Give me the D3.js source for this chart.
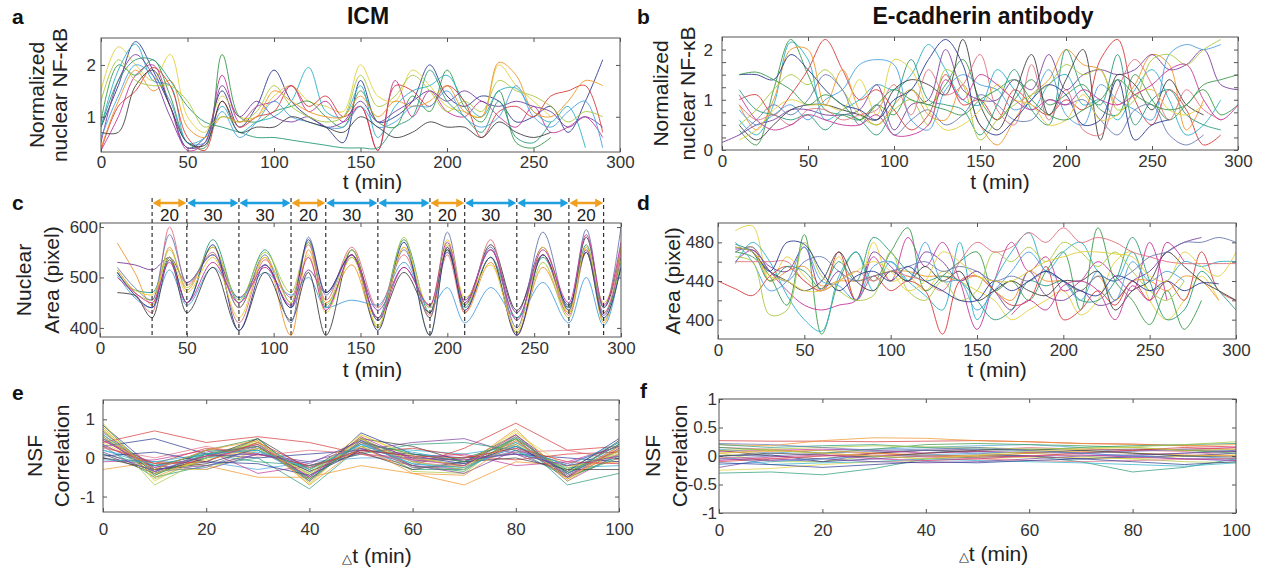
<!DOCTYPE html>
<html>
<head>
<meta charset="utf-8">
<script src="https://cdn.jsdelivr.net/npm/d3@7"></script>
<style>
body{margin:0;background:#fff;}
svg{display:block;font-family:"Liberation Sans",Arial,sans-serif;}
</style>
</head>
<body>
<svg id="fig" width="1267" height="569"></svg>
<script>
// time axes
var tA=[0,10,20,30,40,50,60,70,80,90,100,110,120,130,140,150,160,170,180,190,200,210,220,230,240,250,260,270,280,290]
var tB=[0,10,20,30,40,50,60,70,80,90,100,110,120,130,140,150,160,170,180,190,200,210,220,230,240,250,260,270,280,290,300]
var tC=[10,20,30,40,50,65,80,95,110,120,130,145,160,175,190,200,210,225,240,255,270,280,290,300]
var tD=tB
var lagE=[0,10,20,30,40,50,60,70,80,90,100]
var lagF=lagE

// a: ICM nuclear NF-kB
var nfkbICM=[
[0.8,1.6,2.45,1.9,1.2,0.4,0.6,1.5,0.8,1.2,1.9,1.3,1.0,0.8,0.5,1.7,0.9,1.0,1.3,2.0,1.4,1.2,1.4,1.3,0.9,1.0,1.2,0.7,1.3,2.1],
[1.5,2.35,2.0,1.7,2.2,1.0,0.7,1.4,1.0,1.0,1.4,1.6,1.3,1.2,1.1,2.0,1.4,1.3,1.9,1.6,1.2,1.1,1.0,2.0,1.6,1.3,1.0],
[0.35,1.0,1.8,2.0,1.2,0.35,0.5,1.8,0.9,1.2,1.3,1.6,1.1,1.3,0.9,1.2,0.35,1.7,1.0,1.5,1.1,1.0,1.3,1.0,0.8,1.2,0.7,0.8,1.0,0.6],
[0.9,2.0,1.8,2.1,1.4,0.5,0.4,2.2,1.0,0.9,1.1,1.2,1.3,1.0,0.8,1.5,0.9,0.8,1.4,1.1,1.9,1.2,0.9,1.5,0.5,0.4,0.6],
[0.8,1.9,2.4,1.7,1.6,0.5,0.6,1.2,0.7,0.9,1.0,1.3,1.95,1.1,1.0,1.6,0.6,1.2,1.5,1.6,1.8,1.3,1.0,1.5,1.55,1.1,0.9,1.2,0.4],
[0.35,1.2,1.5,1.95,1.6,0.6,0.35,1.3,0.8,1.0,1.1,1.6,1.2,1.4,1.0,1.2,0.35,1.6,1.5,1.2,1.6,1.3,0.6,1.1,1.2,1.0,1.4,1.5,1.6,0.7],
[0.4,1.3,1.9,1.5,1.7,0.8,0.6,1.0,0.9,1.0,1.5,1.3,1.1,1.0,1.0,1.4,1.0,1.3,1.2,1.3,1.6,1.1,1.0,2.05,1.8,1.1,1.0,1.3,1.7,1.6],
[0.5,1.7,2.2,1.8,1.0,0.4,0.5,1.6,1.0,1.3,1.0,0.9,1.0,0.8,0.9,1.3,0.9,1.1,1.3,1.5,1.3,1.5,1.3,1.2,1.3,1.2,1.1,0.8,1.0,0.8],
[0.8,1.7,2.1,2.1,1.7,1.2,0.9,0.8,0.7,0.6,0.6,0.55,0.5,0.45,0.4,0.4,0.4,0.8,1.0,1.9,1.3,1.0,0.7,1.3,0.6,0.5,0.9],
[0.6,1.4,2.0,1.8,1.3,0.5,0.5,1.1,0.6,0.9,1.3,1.0,0.9,0.8,0.8,1.2,0.8,0.9,1.2,1.2,1.5,1.0,0.8,1.0,1.6,1.0,0.8,1.1,1.3,0.4],
[0.7,0.7,1.6,1.9,1.2,0.5,0.45,1.3,0.7,0.8,0.8,1.0,0.9,0.8,0.7,1.0,0.8,0.6,0.7,0.9,0.8,0.8,0.6,0.9,0.7,0.6,0.7],
[1.3,2.1,1.7,1.6,1.6,1.3,0.8,1.0,0.9,1.1,1.6,1.2,1.0,0.9,1.0,1.8,1.2,1.4,1.8,1.5,1.1,1.3,1.1,1.7,1.5,1.4,1.2,0.9,1.1,1.0]
]

// b: E-cadherin antibody nuclear NF-kB
var nfkbAb=[
[null,0.4,0.1,1.2,2.2,1.5,0.8,0.7,0.6,0.9,0.7,1.2,0.9,1.3,1.8,1.0,0.6,1.0,1.4,0.9,1.1,1.3,0.8,0.7,1.5,1.0,0.6,0.9,1.2,0.7,0.9],
[null,0.6,0.3,0.9,2.15,1.8,0.6,0.8,1.0,1.3,1.2,1.5,2.1,1.6,1.0,0.9,1.6,1.2,0.8,1.3,1.5,0.9,1.0,0.6,1.2,1.6,1.0,0.3,0.5,1.0],
[null,1.0,1.1,0.7,1.1,1.6,2.2,1.6,1.0,1.2,0.8,0.4,0.7,1.5,0.9,1.0,0.6,1.2,0.9,0.7,1.0,0.8,1.8,2.2,1.0,0.5,1.2,0.8,0.1,0.3],
[null,0.9,0.4,1.0,2.0,2.0,0.9,1.6,0.8,0.5,0.9,1.2,0.7,0.6,1.3,0.5,0.1,0.6,1.1,1.4,2.0,1.7,1.6,0.9,1.3,1.9,1.7,0.4,1.0],
[0.15,0.3,0.5,0.6,0.8,0.8,0.7,0.7,0.8,1.3,0.4,0.9,1.0,2.0,1.2,1.0,1.0,1.4,1.2,1.9,1.2,1.5,1.6,1.5,1.6,1.9,1.6,1.7,2.0,1.3,1.2],
[null,1.2,0.8,0.7,0.6,0.7,0.4,0.7,0.6,0.3,0.9,1.8,1.0,0.9,0.8,0.3,0.9,1.6,0.8,0.5,2.0,1.2,0.9,1.9,0.5,1.0,1.2,0.7,0.5,0.4],
[null,0.8,0.5,0.7,0.9,0.6,1.0,1.2,1.7,1.8,1.7,0.6,0.4,1.2,1.5,1.3,1.2,0.8,1.0,1.6,0.7,0.5,1.3,1.0,0.8,0.6,1.9,2.1,2.0,2.1],
[null,0.5,0.2,0.5,0.8,0.9,0.9,0.8,0.7,0.6,1.2,1.4,1.3,1.1,2.2,0.9,0.4,1.1,1.9,0.7,1.4,2.0,0.2,1.5,1.3,0.8,1.4,0.9,0.7],
[null,0.5,0.8,1.2,1.5,1.3,1.6,1.2,0.7,0.5,0.8,1.0,0.5,1.6,1.3,0.2,0.6,0.9,1.1,1.3,1.7,1.5,1.6,0.8,1.0,1.8,1.9,1.7,2.0,2.2],
[null,0.9,0.6,0.7,0.5,0.8,0.8,0.6,0.7,0.8,1.3,0.7,1.6,1.1,1.3,1.9,0.8,0.5,1.7,0.6,1.2,0.4,0.3,1.2,1.8,1.3,0.6,1.2,0.8,0.6],
[null,0.3,0.6,0.9,0.7,1.0,1.5,1.2,0.5,0.9,0.3,0.6,0.8,0.5,0.7,1.1,0.9,0.6,0.6,1.0,0.9,1.0,0.6,0.3,0.8,0.9,0.3,0.1,0.3],
[null,1.5,1.5,1.4,1.9,1.6,1.2,0.9,0.8,0.6,1.0,1.2,1.8,2.2,1.7,0.5,0.3,0.6,1.0,1.3,1.1,0.5,0.6,1.4,0.2,0.5,0.6],
[null,0.2,0.4,0.8,1.0,0.9,0.9,0.8,1.4,0.7,1.8,1.6,0.8,0.4,0.5,0.8,1.3,1.0,0.9,0.5,0.6,1.1,0.6,0.7,1.1,1.2,0.8,0.7,0.9],
[null,1.1,0.6,0.4,0.5,0.7,0.6,0.5,0.5,0.7,0.3,0.3,0.5,1.4,1.0,1.5,1.3,1.0,0.8,1.0,0.9,1.2,1.0,0.9,1.1,1.3,1.6,1.7,1.0,0.6,0.9],
[null,1.5,1.55,1.4,1.2,0.9,1.1,0.9,0.6,0.9,1.2,1.0,0.9,0.8,0.7,1.0,1.2,1.4,1.0,0.7,0.6,0.8,1.0,1.4,1.1,0.9,0.8,0.9,1.3,1.4,1.5]
]

// c: ICM nuclear area
var areaICM=[
[568,510,445,560,475,560,440,540,385,555,450,525,400,560,420,560,430,530,390,520,430,560,410,560],
[530,525,515,540,490,545,460,525,440,515,470,545,435,520,445,550,455,555,430,560,440,555,425,540],
[510,475,470,540,450,575,450,555,450,570,440,540,420,575,430,555,440,540,420,540,440,565,430,520],
[505,460,440,515,445,520,460,510,465,500,440,455,445,530,440,480,410,480,420,490,410,500,405,530],
[470,465,420,535,430,520,395,510,415,510,385,555,415,510,430,555,445,565,435,545,435,580,440,560],
[510,470,455,555,480,560,455,550,470,570,445,555,400,580,385,565,445,540,390,530,420,550,415,535],
[515,470,430,600,485,550,410,535,460,565,455,560,440,545,425,545,430,575,385,545,425,550,430,550],
[520,480,455,585,490,545,440,545,410,580,465,545,415,555,420,590,450,560,400,590,435,595,440,600],
[510,465,440,540,450,565,395,525,440,575,470,545,395,570,385,560,435,540,385,545,445,550,420,520],
[515,475,465,540,470,540,420,540,450,545,430,540,405,560,440,575,460,525,395,560,430,560,450,560],
[500,470,450,530,450,530,450,520,445,540,435,545,420,520,445,570,450,555,415,555,450,585,445,570]
]
var cBoundaries=[30,50,80,110,130,160,190,210,240,270,290]

// d: E-cadherin antibody area
var areaAb=[
[null,492,497,440,465,445,432,465,420,480,440,445,430,450,440,430,420,400,410,420,430,405,420,460,470,420,400,420,445,420],
[null,460,472,450,430,415,410,415,420,465,440,485,455,480,440,390,440,480,450,465,430,440,460,445,430,480,420],
[null,470,465,445,415,488,385,440,470,440,470,495,430,445,460,470,430,440,420,450,470,410,495,440,420,395,430,390,420],
[null,458,480,460,425,400,388,445,470,430,460,440,425,410,480,400,440,470,490,450,470,480,450,440,470,430,440,460,455,460,460],
[440,432,425,445,455,440,430,470,420,445,430,440,430,385,440,445,430,415,420,455,400,410,430,415,440,420,440,420,470,430,420],
[null,470,475,440,450,455,435,440,440,445,450,450,445,445,440,445,430,420,450,440,440,430,445,420,440,440,430,445,440,420],
[null,473,472,455,450,475,430,450,420,470,455,440,470,460,440,450,430,410,450,425,420,430,415,420,440,450,470,480,485],
[null,478,470,440,455,450,432,460,440,485,470,450,440,445,440,420,400,410,440,435,440,420,420,440,485,440,400,410,450,430,410],
[null,480,460,430,440,475,440,435,420,455,460,440,480,440,440,410,430,450,470,450,440,420,450,420,460,440,450,440],
[null,null,470,450,440,430,440,470,440,430,450,440,455,440,450,420,430,440,430,425,440,440,450,410,430,440,470,455,440,430,420],
[null,465,460,405,410,480,445,430,420,425,470,430,420,440,420,430,470,460,475,460,480,470,455,470,450,430,420,440],
[null,460,460,460,460,440,430,440,450,440,450,445,440,430,460,480,470,475,490,480,495,480,485,480,470,465,460,458,458,458,458],
[null,470,475,450,440,460,465,450,440,445,450,455,460,450,455,450,440,445,440,450,440,430,445,440,450,465,470,480,480,485,480],
[null,475,470,450,480,478,450,430,445,450,440,455,440,430,420,420,440,430,440,450,440,430,425,445,440,430,440,430,438,437],
[null,475,470,445,440,430,430,440,450,460,450,430,440,470,460,445,440,440,450,460,465,470,470,468,465,445,440,470,455,445,470],
[null,null,null,null,null,null,null,null,null,null,null,null,null,null,null,null,null,405,420,410,435,440,430,400,435,420,480,460]
]

// e: ICM NSF correlation
var nsfICM=[
[0.85,-0.3,-0.1,0.5,-0.6,0.65,0.1,-0.1,0.6,-0.4,0.2],
[0.9,-0.6,0.1,0.4,-0.7,0.6,0.0,-0.2,0.7,-0.5,0.3],
[0.7,-0.4,0.0,0.3,-0.5,0.4,-0.2,-0.3,0.5,-0.6,0.1],
[0.6,-0.3,0.2,0.2,-0.4,0.5,-0.1,0.0,0.4,-0.3,0.4],
[0.5,-0.2,0.1,0.35,-0.3,0.3,0.2,0.1,0.3,-0.2,0.0],
[0.4,0.7,0.4,0.55,0.4,0.1,-0.2,0.25,0.9,0.2,0.3],
[-0.3,-0.1,-0.2,-0.5,-0.5,-0.2,-0.4,-0.7,-0.1,-0.2,-0.1],
[0.0,-0.2,-0.3,0.1,-0.2,0.2,0.4,0.5,0.1,-0.4,0.2],
[0.3,-0.5,-0.2,0.0,-0.8,0.3,-0.3,-0.3,0.5,-0.7,-0.4],
[0.2,-0.1,-0.1,-0.3,-0.1,0.0,0.0,-0.2,0.2,-0.3,0.1],
[0.1,-0.4,0.0,0.5,-0.3,0.5,0.3,-0.1,0.35,-0.5,0.45],
[0.75,-0.7,0.0,0.45,-0.65,0.55,-0.35,-0.4,0.6,-0.6,0.25],
[0.5,-0.35,0.05,0.2,-0.45,0.4,-0.1,-0.25,0.45,-0.45,0.1],
[0.65,-0.25,0.15,0.3,-0.35,0.25,-0.05,-0.15,0.25,-0.35,0.35],
[0.3,0.5,0.1,0.0,0.1,0.2,0.1,0.0,0.1,0.0,-0.1],
[0.4,-0.3,-0.3,0.2,-0.3,0.3,0.0,-0.2,0.35,-0.3,0.2],
[-0.1,-0.05,0.2,-0.4,-0.2,0.1,0.0,0.1,-0.2,-0.1,0.3],
[0.55,-0.45,0.2,0.5,-0.55,0.45,-0.2,-0.35,0.55,-0.5,0.0],
[0.2,-0.2,0.0,0.15,-0.25,0.35,0.15,-0.1,0.15,-0.25,-0.2],
[0.45,-0.15,0.25,0.1,-0.2,0.15,0.25,0.05,-0.05,0.1,0.15],
[0.8,-0.5,0.05,0.35,-0.6,0.5,-0.25,-0.2,0.75,-0.55,0.2],
[0.35,-0.3,-0.2,0.1,-0.1,0.25,-0.2,-0.4,0.2,-0.15,0.3],
[0.1,-0.2,0.1,-0.1,-0.2,0.1,0.35,0.4,0.2,-0.5,0.05],
[0.6,-0.35,0.1,0.2,-0.5,0.35,-0.15,-0.3,0.4,-0.4,0.35],
[0.0,-0.3,-0.15,0.25,-0.35,0.15,-0.3,-0.1,0.0,-0.3,-0.3],
[0.7,-0.55,0.0,0.4,-0.45,0.5,-0.1,-0.3,0.5,-0.35,0.15],
[0.25,0.0,0.3,0.05,0.2,0.1,-0.05,-0.05,0.15,0.2,-0.05],
[0.5,-0.35,-0.25,0.3,-0.6,0.45,-0.25,-0.2,0.55,-0.45,0.3],
[0.05,0.15,-0.1,-0.15,-0.45,0.2,0.05,-0.15,0.3,-0.35,0.5],
[0.75,-0.4,-0.05,0.25,-0.4,0.6,0.05,-0.25,0.65,-0.25,0.1],
[0.45,-0.25,0.05,0.35,-0.5,0.55,-0.05,-0.2,0.6,-0.5,0.25],
[0.85,-0.45,0.1,0.3,-0.55,0.4,0.1,-0.1,0.5,-0.4,0.35],
[-0.05,-0.1,0.1,0.2,-0.3,0.35,-0.15,-0.25,0.3,-0.2,0.4],
[0.3,-0.15,-0.1,0.4,-0.25,0.2,0.05,0.0,0.25,-0.1,-0.15],
[0.55,-0.3,0.2,0.45,-0.7,0.3,-0.4,-0.45,0.45,-0.55,0.3],
[0.15,-0.35,0.05,0.1,-0.15,0.45,0.0,-0.05,0.1,-0.2,0.05]
]

// f: E-cadherin antibody NSF correlation
var nsfAb=[
[0.27,0.26,0.26,0.25,0.26,0.27,0.25,0.22,0.21,0.18,0.16],
[0.2,0.18,0.27,0.32,0.31,0.27,0.25,0.22,0.2,0.18,0.2],
[-0.2,-0.05,-0.1,0.05,0.1,0.12,0.1,0.05,0.0,-0.05,-0.05],
[-0.3,-0.28,-0.33,-0.22,-0.05,-0.02,0.0,-0.1,-0.28,-0.2,-0.05],
[0.12,0.05,0.1,0.12,0.15,0.18,0.2,0.15,0.05,0.0,-0.05],
[0.1,0.0,-0.05,0.05,0.1,0.08,0.05,0.1,0.12,0.1,0.08],
[0.05,-0.1,-0.1,0.0,-0.05,0.0,0.05,0.0,-0.05,-0.1,-0.12],
[0.15,0.12,0.05,0.0,0.05,0.1,0.15,0.12,0.1,0.08,0.0],
[-0.05,0.0,0.05,0.08,0.1,0.05,0.0,-0.05,0.0,0.05,0.1],
[0.0,0.02,-0.1,-0.05,0.0,0.02,0.0,-0.05,-0.02,0.0,0.05],
[-0.25,-0.22,-0.15,-0.1,-0.08,-0.05,-0.02,-0.03,-0.05,0.0,0.02],
[0.08,0.1,0.12,0.1,0.05,0.08,0.06,0.05,0.1,0.12,0.15],
[0.15,0.1,0.05,0.12,0.2,0.22,0.2,0.18,0.15,0.1,0.05],
[0.0,-0.15,-0.12,-0.1,-0.05,-0.08,-0.1,-0.12,-0.15,-0.18,-0.12],
[-0.1,-0.05,0.0,0.05,0.0,-0.02,0.0,0.05,0.1,0.15,0.12],
[0.05,0.08,0.1,0.05,0.02,0.0,0.05,0.08,0.05,0.02,0.0],
[-0.05,-0.08,-0.05,-0.1,-0.12,-0.1,-0.05,0.0,0.02,0.05,0.08],
[0.2,0.15,0.18,0.2,0.15,0.12,0.1,0.15,0.18,0.2,0.22],
[-0.15,-0.1,-0.05,0.0,0.02,0.05,0.08,0.05,0.0,-0.05,-0.08],
[0.0,0.05,0.02,-0.02,0.05,0.1,0.12,0.1,0.05,0.0,-0.02],
[0.1,0.12,0.15,0.18,0.16,0.15,0.12,0.14,0.16,0.2,0.25],
[-0.02,-0.05,0.0,0.02,-0.02,-0.05,-0.08,-0.1,-0.08,-0.06,-0.04],
[0.22,0.2,0.15,0.1,0.12,0.15,0.1,0.05,0.08,0.12,0.1],
[-0.12,-0.15,-0.2,-0.15,-0.1,-0.12,-0.08,-0.05,-0.1,-0.15,-0.1],
[0.05,0.1,0.05,0.0,-0.05,0.02,0.08,0.12,0.15,0.1,0.12],
[-0.08,-0.02,0.02,-0.05,-0.08,-0.05,0.0,0.02,-0.02,-0.05,-0.08]
]

var timeTicks=[0,50,100,150,200,250,300]
var lagTicks=[0,20,40,60,80,100]

var palette=["#2b3a8f","#e3cf3a","#c4359a","#3a9a4a","#2ab0c8","#d83a3a","#f0952a","#7a3fa0","#2a9a7a","#4aa0e0","#404040","#a8c840","#e07080","#6a7ab0"]

var svg=d3.select("#fig")
svg.append("rect").attr("width",1267).attr("height",569).attr("fill","#fff")

function drawPanel(p){
	var x=d3.scaleLinear().domain(p.xDomain).range([p.x0,p.x1])
	var y=d3.scaleLinear().domain(p.yDomain).range([p.y1,p.y0])

	svg.append("clipPath")
	.attr("id","clip-"+p.id)
	.append("rect")
	.attr("x",p.x0).attr("y",p.y0)
	.attr("width",p.x1-p.x0).attr("height",p.y1-p.y0)

	var line=d3.line()
	.defined(d=>d[1]!=null)
	.x(d=>x(d[0]))
	.y(d=>y(d[1]))
	.curve(p.curve)

	svg.append("g")
	.attr("clip-path","url(#clip-"+p.id+")")
	.selectAll("path")
	.data(p.series)
	.enter()
	.append("path")
	.attr("d",s=>line(s.map((v,i)=>[p.xs[i],v])))
	.attr("fill","none")
	.attr("stroke",(s,i)=>palette[(i+p.colorShift)%palette.length])
	.attr("stroke-width",p.lw)
	.attr("stroke-opacity",0.9)

	var style=g=>{
		g.select(".domain").remove()
		g.attr("font-family","'Liberation Sans',Arial,sans-serif")
		.attr("font-size",17)
		.attr("color","#555")
		g.selectAll("text").attr("fill","#333")
	}
	var fmt=d=>p.yLabels.indexOf(d)>=0?String(d):""

	svg.append("g")
	.attr("transform","translate(0,"+p.y1+")")
	.call(d3.axisBottom(x).tickValues(p.xTicks).tickSizeInner(-4).tickSizeOuter(0).tickPadding(p.padX).tickFormat(d=>String(d)))
	.call(style)
	svg.append("g")
	.attr("transform","translate(0,"+p.y0+")")
	.call(d3.axisTop(x).tickValues(p.xTicks).tickSizeInner(-4).tickSizeOuter(0).tickFormat(""))
	.call(style)
	svg.append("g")
	.attr("transform","translate("+p.x0+",0)")
	.call(d3.axisLeft(y).tickValues(p.yTicks).tickSizeInner(-4).tickSizeOuter(0).tickPadding(p.padY).tickFormat(fmt))
	.call(style)
	svg.append("g")
	.attr("transform","translate("+p.x1+",0)")
	.call(d3.axisRight(y).tickValues(p.yTicks).tickSizeInner(-4).tickSizeOuter(0).tickFormat(""))
	.call(style)

	svg.append("rect")
	.attr("x",p.x0).attr("y",p.y0)
	.attr("width",p.x1-p.x0).attr("height",p.y1-p.y0)
	.attr("fill","none")
	.attr("stroke","#555")
	.attr("stroke-width",1)

	// panel letter
	svg.append("text")
	.attr("x",p.letterX).attr("y",p.letterY)
	.attr("font-size",21).attr("font-weight","bold").attr("fill","#111")
	.text(p.letter)

	// y label lines
	p.yTitle.forEach((t,i)=>{
		svg.append("text")
		.attr("transform","translate("+p.yTitleX[i]+","+((p.y0+p.y1)/2)+") rotate(-90)")
		.attr("dy","0.35em")
		.attr("text-anchor","middle")
		.attr("font-size",21).attr("fill","#222")
		.text(t)
	})

	// x label
	var xl=svg.append("text")
	.attr("x",(p.x0+p.x1)/2+p.xTitleShift).attr("y",p.xTitleY)
	.attr("text-anchor","middle")
	.attr("font-size",21).attr("fill","#222")
	if(p.delta) xl.append("tspan").attr("font-size",13).text("\u25B3")
	xl.append("tspan").text("t (min)")

	return {x:x,y:y}
}

drawPanel({id:"a",series:nfkbICM,xs:tA,x0:101,x1:620,y0:38,y1:152,xDomain:[0,300],yDomain:[0.32,2.52],
	xTicks:timeTicks,yTicks:[1,2],yLabels:[1,2],curve:d3.curveCatmullRom.alpha(0.5),lw:1,colorShift:0,
	padX:4,padY:5,letter:"a",letterX:12,letterY:24,yTitle:["Normalized","nuclear NF-\u03BAB"],yTitleX:[37,60],
	xTitleY:189,xTitleShift:12})

drawPanel({id:"b",series:nfkbAb,xs:tB,x0:722,x1:1238,y0:37,y1:150,xDomain:[0,300],yDomain:[0,2.25],
	xTicks:timeTicks,yTicks:[0,0.25,0.5,0.75,1,1.25,1.5,1.75,2],yLabels:[0,1,2],curve:d3.curveCatmullRom.alpha(0.5),lw:1,colorShift:3,
	padX:5,padY:9,letter:"b",letterX:637,letterY:24,yTitle:["Normalized","nuclear NF-\u03BAB"],yTitleX:[661,688],
	xTitleY:189,xTitleShift:20})

var pc=drawPanel({id:"c",series:areaICM,xs:tC,x0:100,x1:621,y0:223,y1:337,xDomain:[0,300],yDomain:[382,608],
	xTicks:timeTicks,yTicks:[400,500,600],yLabels:[400,500,600],curve:d3.curveMonotoneX,lw:1,colorShift:6,
	padX:5,padY:2,letter:"c",letterX:12,letterY:210,yTitle:["Nuclear","Area (pixel)"],yTitleX:[24,52],
	xTitleY:377,xTitleShift:12})

drawPanel({id:"d",series:areaAb,xs:tD,x0:718,x1:1236,y0:223,y1:339,xDomain:[0,300],yDomain:[380,500],
	xTicks:timeTicks,yTicks:[400,420,440,460,480],yLabels:[400,440,480],curve:d3.curveCatmullRom.alpha(0.5),lw:1,colorShift:1,
	padX:5,padY:4,letter:"d",letterX:637,letterY:210,yTitle:["Area (pixel)"],yTitleX:[673],
	xTitleY:377,xTitleShift:20})

drawPanel({id:"e",series:nsfICM,xs:lagE,x0:103,x1:619,y0:400,y1:512,xDomain:[0,100],yDomain:[-1.4,1.5],
	xTicks:lagTicks,yTicks:[-1,0,1],yLabels:[-1,0,1],curve:d3.curveLinear,lw:0.8,colorShift:0,
	padX:11,padY:8,letter:"e",letterX:12,letterY:400,yTitle:["NSF","Correlation"],yTitleX:[35,62],
	xTitleY:563,xTitleShift:16,delta:true})

drawPanel({id:"f",series:nsfAb,xs:lagF,x0:719,x1:1236,y0:399,y1:513,xDomain:[0,100],yDomain:[-1,1],
	xTicks:lagTicks,yTicks:[-1,-0.5,0,0.5,1],yLabels:[-1,-0.5,0,0.5,1],curve:d3.curveLinear,lw:0.8,colorShift:5,
	padX:11,padY:2,letter:"f",letterX:640,letterY:398,yTitle:["NSF","Correlation"],yTitleX:[653,680],
	xTitleY:561,xTitleShift:16,delta:true})

// column titles
svg.append("text").attr("x",368).attr("y",24).attr("text-anchor","middle")
.attr("font-size",23).attr("font-weight","bold").attr("fill","#111").text("ICM")
svg.append("text").attr("x",983).attr("y",24).attr("text-anchor","middle")
.attr("font-size",23).attr("font-weight","bold").attr("fill","#111").text("E-cadherin antibody")

// c: period markers
var dashTop=198
var arrowY=203
svg.append("g")
.selectAll("line")
.data(cBoundaries)
.enter()
.append("line")
.attr("x1",d=>pc.x(d)).attr("x2",d=>pc.x(d))
.attr("y1",dashTop).attr("y2",337)
.attr("stroke","#222").attr("stroke-width",1.1)
.attr("stroke-dasharray","4,3")

var spans=d3.pairs(cBoundaries)
var spanColor=d=>(d[1]-d[0])===20?"#f0a020":"#1e9fe0"
var sg=svg.append("g").selectAll("g").data(spans).enter().append("g")
sg.append("line")
.attr("x1",d=>pc.x(d[0])+5).attr("x2",d=>pc.x(d[1])-5)
.attr("y1",arrowY).attr("y2",arrowY)
.attr("stroke",spanColor).attr("stroke-width",2.5)
sg.append("path")
.attr("d",d=>{
	var a=pc.x(d[0])+0.5,b=pc.x(d[1])-0.5
	return "M"+a+","+arrowY+"L"+(a+8)+","+(arrowY-4.5)+"L"+(a+8)+","+(arrowY+4.5)+"Z"+
	"M"+b+","+arrowY+"L"+(b-8)+","+(arrowY-4.5)+"L"+(b-8)+","+(arrowY+4.5)+"Z"
})
.attr("fill",spanColor)
sg.append("text")
.attr("x",d=>(pc.x(d[0])+pc.x(d[1]))/2)
.attr("y",221)
.attr("text-anchor","middle")
.attr("font-size",17).attr("fill","#222")
.text(d=>d[1]-d[0])
</script>
</body>
</html>
